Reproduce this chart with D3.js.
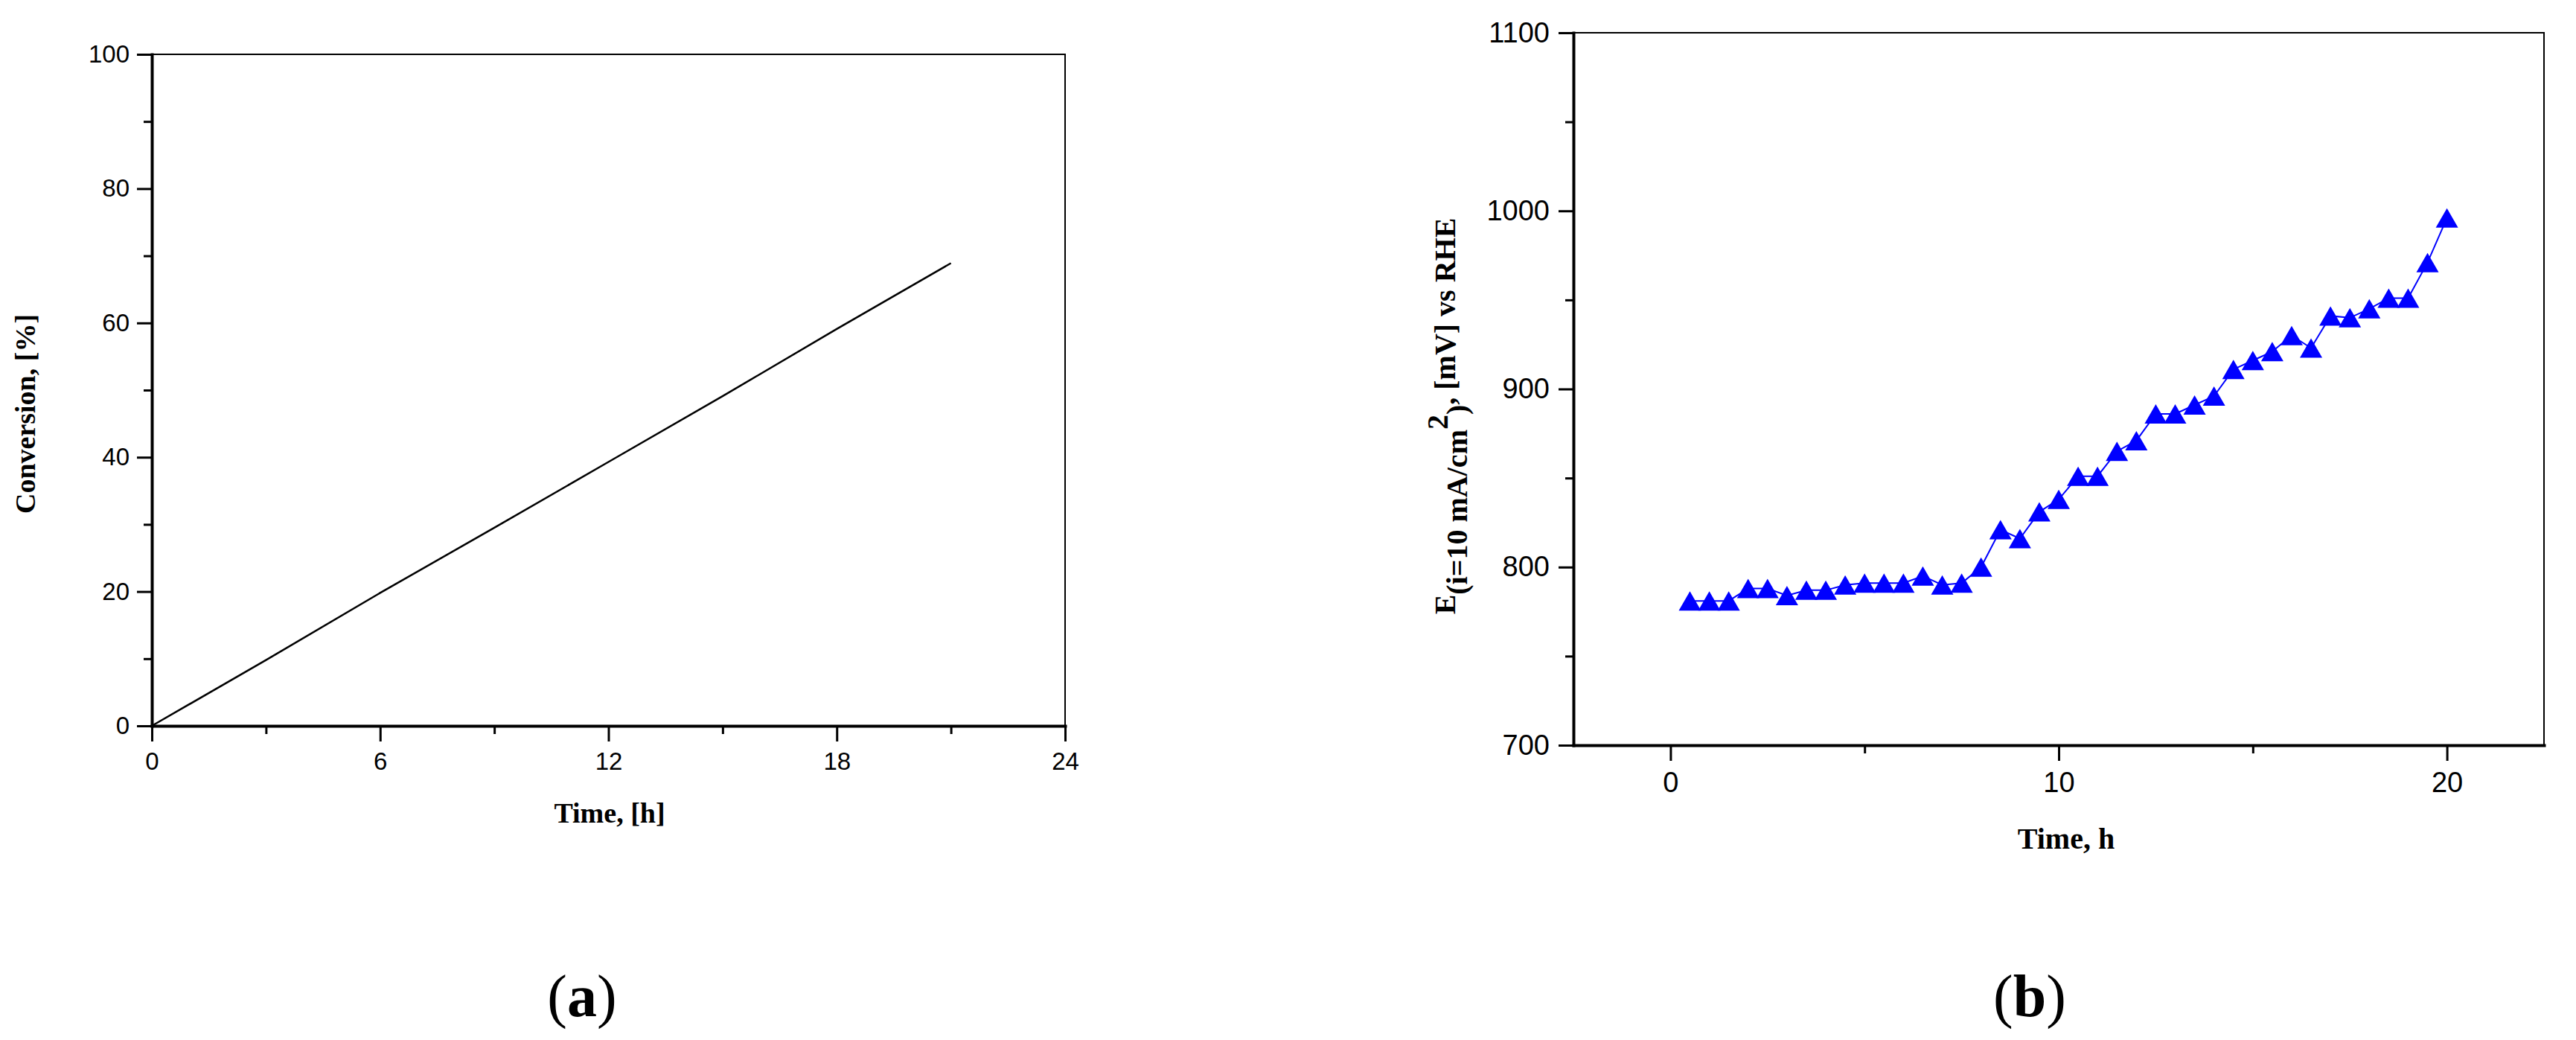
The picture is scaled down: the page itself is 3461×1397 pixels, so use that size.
<!DOCTYPE html>
<meta charset="utf-8">
<style>
body { margin: 0; background: #fff; }
.axis .domain { stroke: #000; stroke-width: 4px; stroke-linecap: square; }
.axis line { stroke: #000; stroke-width: 3px; }
.axis text { font-family: "Liberation Sans", Arial, sans-serif; fill: #000; }
.frame { stroke: #000; stroke-width: 2px; fill: none; }
.label { font-family: "Liberation Serif", "Times New Roman", serif; font-weight: bold; fill: #000; }
.conv { fill: none; stroke: #000; stroke-width: 2.5px; }
.pot { fill: none; stroke: #0000ff; stroke-width: 2px; }
.tri { fill: #0000ff; }
</style>
<svg width="3461" height="1397"></svg>
<script src="https://d3js.org/d3.v7.min.js"></script>
<script>

// (a) conversion vs time
var convTime  = [0, 3, 6, 9, 12, 15, 18, 21];
var convValue = [0, 9.8, 19.8, 29.5, 39.3, 49.1, 59.1, 68.9];
var convXTicks = [0, 6, 12, 18, 24],
    convXMinor = [3, 9, 15, 21],
    convYTicks = [0, 20, 40, 60, 80, 100],
    convYMinor = [10, 30, 50, 70, 90];

// (b) potential at 10 mA/cm2 vs time
var potTime = [0.5, 1, 1.5, 2, 2.5, 3, 3.5, 4, 4.5, 5, 5.5, 6, 6.5, 7, 7.5, 8, 8.5, 9, 9.5, 10,
               10.5, 11, 11.5, 12, 12.5, 13, 13.5, 14, 14.5, 15, 15.5, 16, 16.5, 17, 17.5, 18, 18.5, 19, 19.5, 20];
var potValue = [781, 781, 781, 788, 788, 784, 787, 787, 790, 791, 791, 791, 795, 790, 791, 800, 821, 816, 831, 838,
                851, 851, 865, 871, 886, 886, 891, 896, 911, 916, 921, 930, 923, 941, 940, 945, 951, 951, 971, 996];
var potXTicks = [0, 10, 20],
    potXMinor = [5, 15],
    potYTicks = [700, 800, 900, 1000, 1100],
    potYMinor = [750, 850, 950, 1050];

var svg = d3.select("svg");

var xA = d3.scaleLinear().domain([0, 24]).range([204, 1431]),
    yA = d3.scaleLinear().domain([0, 100]).range([975, 73]);

var xB = d3.scaleLinear().domain([-2.5, 22.5]).range([2114, 3418]),
    yB = d3.scaleLinear().domain([700, 1100]).range([1001, 44]);

function drawAxes(x, y, xt, xm, yt, ym, fs, pad) {
  var x0 = x.range()[0], x1 = x.range()[1],
      y0 = y.range()[0], y1 = y.range()[1];

  // thin top and right border
  svg.append("path")
      .attr("class", "frame")
      .attr("d", "M" + x0 + "," + y1 + "H" + x1 + "V" + y0);

  // minor ticks
  svg.append("g")
      .attr("class", "axis")
      .attr("transform", "translate(0," + y0 + ")")
      .call(d3.axisBottom(x).tickValues(xm).tickSize(11).tickSizeOuter(0).tickFormat(""))
      .select(".domain").remove();
  svg.append("g")
      .attr("class", "axis")
      .attr("transform", "translate(" + x0 + ",0)")
      .call(d3.axisLeft(y).tickValues(ym).tickSize(11).tickSizeOuter(0).tickFormat(""))
      .select(".domain").remove();

  // major ticks + labels
  svg.append("g")
      .attr("class", "axis")
      .attr("transform", "translate(0," + y0 + ")")
      .call(d3.axisBottom(x).tickValues(xt).tickSize(21).tickSizeOuter(0).tickPadding(pad.x).tickFormat(d3.format("d")))
      .selectAll("text").style("font-size", fs + "px");
  svg.append("g")
      .attr("class", "axis")
      .attr("transform", "translate(" + x0 + ",0)")
      .call(d3.axisLeft(y).tickValues(yt).tickSize(20).tickSizeOuter(0).tickPadding(pad.y).tickFormat(d3.format("d")))
      .selectAll("text").style("font-size", fs + "px");
}

drawAxes(xA, yA, convXTicks, convXMinor, convYTicks, convYMinor, 33, {x: 15, y: 10});
drawAxes(xB, yB, potXTicks, potXMinor, potYTicks, potYMinor, 38, {x: 15, y: 12});

// (a) line
var convData = convTime.map(function(t, i) { return {t: t, v: convValue[i]}; });
svg.append("path")
    .datum(convData)
    .attr("class", "conv")
    .attr("d", d3.line().x(function(d) { return xA(d.t); }).y(function(d) { return yA(d.v); }));

// (b) line + triangles
var potData = potTime.map(function(t, i) { return {t: t, v: potValue[i]}; });
svg.append("path")
    .datum(potData)
    .attr("class", "pot")
    .attr("d", d3.line().x(function(d) { return xB(d.t); }).y(function(d) { return yB(d.v); }));

svg.selectAll(".tri")
    .data(potData)
  .enter().append("path")
    .attr("class", "tri")
    .attr("transform", function(d) { return "translate(" + xB(d.t) + "," + yB(d.v) + ")"; })
    .attr("d", "M0,-13L15,13L-15,13Z");

// axis titles
svg.append("text")
    .attr("class", "label")
    .attr("transform", "translate(47,556) rotate(-90)")
    .attr("text-anchor", "middle")
    .style("font-size", "38px")
    .text("Conversion, [%]");

svg.append("text")
    .attr("class", "label")
    .attr("x", 819).attr("y", 1105)
    .attr("text-anchor", "middle")
    .style("font-size", "38px")
    .text("Time, [h]");

svg.append("text")
    .attr("class", "label")
    .attr("x", 2776).attr("y", 1140)
    .attr("text-anchor", "middle")
    .style("font-size", "40px")
    .text("Time, h");

var yl = svg.append("text")
    .attr("class", "label")
    .attr("transform", "translate(1955,559) rotate(-90)")
    .attr("text-anchor", "middle")
    .style("font-size", "40px");
yl.append("tspan").text("E");
yl.append("tspan").attr("dy", 16).text("(i=10 mA/cm");
yl.append("tspan").attr("dy", -26).text("2");
yl.append("tspan").attr("dy", 26).text(")");
yl.append("tspan").attr("dy", -16).text(", [mV] vs RHE");

// panel letters
function panel(x, letter) {
  var t = svg.append("text")
      .attr("x", x).attr("y", 1365)
      .attr("text-anchor", "middle")
      .style("font-family", "'Liberation Serif', 'Times New Roman', serif")
      .style("font-size", "80px");
  t.append("tspan").text("(");
  t.append("tspan").style("font-weight", "bold").text(letter);
  t.append("tspan").text(")");
}
panel(782, "a");
panel(2727, "b");

</script>
